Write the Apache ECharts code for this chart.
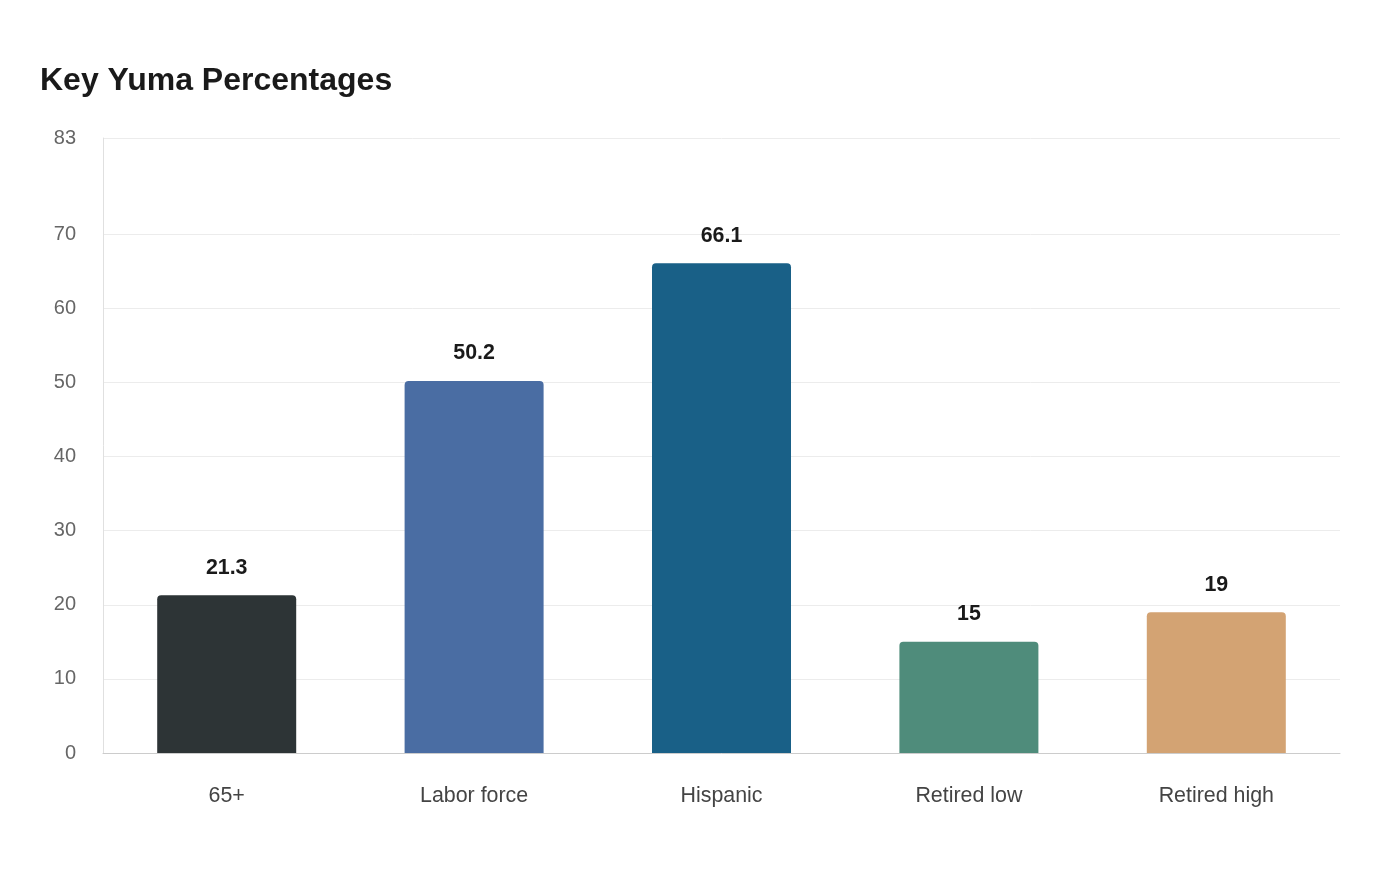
<!DOCTYPE html>
<html>
<head>
<meta charset="utf-8">
<script src="https://cdn.jsdelivr.net/npm/echarts@6/dist/echarts.min.js"></script>
<style>
  html, body { margin: 0; padding: 0; background: #fff; }
  #chart { width: 1400px; height: 880px; }
</style>
</head>
<body>
<div id="chart"></div>
<script>
const categories = ['65+', 'Labor force', 'Hispanic', 'Retired low', 'Retired high'];
const values = [21.3, 50.2, 66.1, 15, 19];
const barColors = ['#2d3436', '#4a6da3', '#196087', '#4f8c7b', '#d3a373'];
const yTicks = [0, 10, 20, 30, 40, 50, 60, 70, 83];

const font = 'Arial, "Liberation Sans", Helvetica, sans-serif';
const chart = echarts.init(document.getElementById('chart'));

chart.setOption({
  animation: false,
  textStyle: { fontFamily: font },
  title: {
    text: 'Key Yuma Percentages',
    left: 35,
    top: 60,
    textStyle: { fontFamily: font, fontSize: 32, fontWeight: 'bold', color: '#1a1a1a' }
  },
  grid: { left: 103, right: 60, top: 138, bottom: 127 },
  xAxis: {
    type: 'category',
    data: categories,
    axisLine: { lineStyle: { color: '#cccccc', width: 1 } },
    axisTick: { show: false },
    axisLabel: { fontFamily: font, fontSize: 21.4, color: '#444', margin: 33 }
  },
  yAxis: {
    type: 'value',
    min: 0,
    max: 83,
    axisLine: { show: true, lineStyle: { color: '#e0e0e0' } },
    axisTick: { show: false, customValues: yTicks },
    axisLabel: { fontFamily: font, fontSize: 20, color: '#666', margin: 27, customValues: yTicks },
    splitLine: { lineStyle: { color: '#ececec', width: 1 } }
  },
  series: [{
    type: 'bar',
    data: values.map((v, i) => ({ value: v, itemStyle: { color: barColors[i] } })),
    barWidth: 139,
    itemStyle: { borderRadius: [4, 4, 0, 0] },
    label: {
      show: true,
      position: 'top',
      distance: 17,
      fontFamily: font,
      fontSize: 21.4,
      fontWeight: 'bold',
      color: '#1a1a1a'
    }
  }]
});
</script>
</body>
</html>
